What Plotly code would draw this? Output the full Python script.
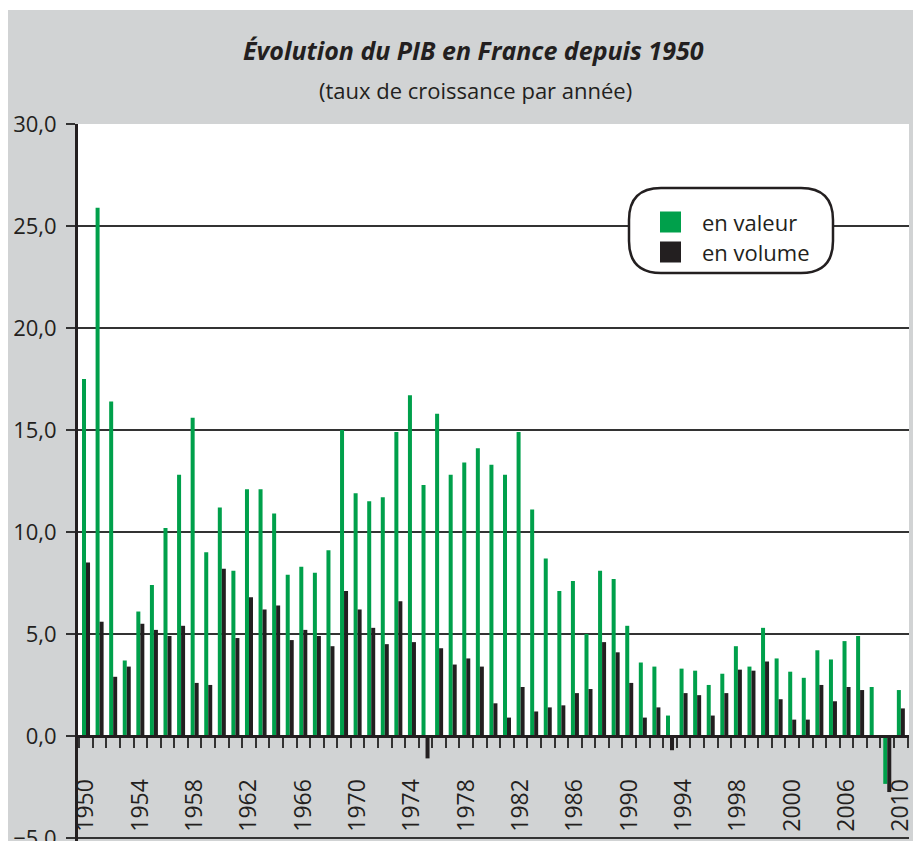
import plotly.graph_objects as go

years = list(range(1950, 2011))
valeur = [17.5, 25.9, 16.4, 3.7, 6.1, 7.4, 10.2, 12.8, 15.6, 9.0,
          11.2, 8.1, 12.1, 12.1, 10.9, 7.9, 8.3, 8.0, 9.1, 15.0,
          11.9, 11.5, 11.7, 14.9, 16.7, 12.3, 15.8, 12.8, 13.4, 14.1,
          13.3, 12.8, 14.9, 11.1, 8.7, 7.1, 7.6, 5.0, 8.1, 7.7,
          5.4, 3.6, 3.4, 1.0, 3.3, 3.2, 2.5, 3.05, 4.4, 3.4,
          5.3, 3.8, 3.15, 2.85, 4.2, 3.75, 4.65, 4.9, 2.4, -2.35, 2.25]
volume = [8.5, 5.6, 2.9, 3.4, 5.5, 5.2, 4.9, 5.4, 2.6, 2.5,
          8.2, 4.8, 6.8, 6.2, 6.4, 4.7, 5.2, 4.9, 4.4, 7.1,
          6.2, 5.3, 4.5, 6.6, 4.6, -1.1, 4.3, 3.5, 3.8, 3.4,
          1.6, 0.9, 2.4, 1.2, 1.4, 1.5, 2.1, 2.3, 4.6, 4.1,
          2.6, 0.9, 1.4, -0.7, 2.1, 2.0, 1.0, 2.1, 3.25, 3.2,
          3.65, 1.8, 0.8, 0.8, 2.5, 1.7, 2.4, 2.25, -0.1, -2.75, 1.35]
tick_positions = [1950, 1954, 1958, 1962, 1966, 1970, 1974, 1978, 1982,
                  1986, 1990, 1994, 1998, 2002, 2006, 2010]
tick_labels = ["1950", "1954", "1958", "1962", "1966", "1970", "1974", "1978",
               "1982", "1986", "1990", "1994", "1998", "2000", "2006", "2010"]
series_names = ["en valeur", "en volume"]
series_colors = ["#00a04b", "#231f20"]

TITLE = "Évolution du PIB en France depuis 1950"
SUBTITLE = "(taux de croissance par année)"

W, H = 913, 841
L, R, T, B = 78, 4, 124, 0
PW, PH = W - L - R, H - T - B
Y_MIN, Y_MAX = -5.15, 30
FONT = "Open Sans"
TXT = "#231f20"


def px(x):
    return (x - L) / PW


def py(y):
    return (H - B - y) / PH


fig = go.Figure()
for name, vals, col in zip(series_names, [valeur, volume], series_colors):
    fig.add_trace(go.Bar(x=years, y=vals, name=name, marker_color=col,
                         marker_line_width=0, showlegend=False))

shapes = [
    dict(type="rect", xref="paper", yref="paper", x0=px(8), x1=px(913),
         y0=py(841), y1=py(10), fillcolor="#d1d3d4", line_width=0, layer="below"),
    dict(type="rect", xref="paper", yref="y", x0=0, x1=1, y0=0, y1=30,
         fillcolor="white", line_width=0, layer="below"),
]

x0, x1, y0, y1, r = 629, 833, 188, 273, 32
pts = [
    ("M", [(x0 + r, y0)]), ("L", [(x1 - r, y0)]), ("Q", [(x1, y0), (x1, y0 + r)]),
    ("L", [(x1, y1 - r)]), ("Q", [(x1, y1), (x1 - r, y1)]), ("L", [(x0 + r, y1)]),
    ("Q", [(x0, y1), (x0, y1 - r)]), ("L", [(x0, y0 + r)]), ("Q", [(x0, y0), (x0 + r, y0)]),
]
path = ""
for cmd, ps in pts:
    path += cmd + " " + " ".join(f"{px(a):.5f},{py(b):.5f}" for a, b in ps) + " "
path += "Z"
shapes.append(dict(type="path", xref="paper", yref="paper", path=path,
                   fillcolor="white", line=dict(color=TXT, width=2.5), layer="above"))

annotations = [
    dict(text=f"<b><i>{TITLE}</i></b>", x=px(473), y=py(50), xref="paper", yref="paper",
         showarrow=False, xanchor="center", yanchor="middle",
         font=dict(family=FONT, size=25, color=TXT)),
    dict(text=SUBTITLE, x=px(475), y=py(90), xref="paper", yref="paper",
         showarrow=False, xanchor="center", yanchor="middle",
         font=dict(family=FONT, size=22, color=TXT)),
]
for i, (name, col) in enumerate(zip(series_names, series_colors)):
    cy = 222 + 30 * i
    shapes.append(dict(type="rect", xref="paper", yref="paper",
                       x0=px(660), x1=px(681), y0=py(cy - 10.5), y1=py(cy + 10.5),
                       fillcolor=col, line_width=0, layer="above"))
    annotations.append(dict(text=name, x=px(700), y=py(cy), xref="paper", yref="paper",
                            showarrow=False, xanchor="left", yanchor="middle",
                            font=dict(family=FONT, size=22, color=TXT)))

fig.update_layout(
    width=W, height=H,
    margin=dict(l=L, r=R, t=T, b=B, pad=0, autoexpand=False),
    paper_bgcolor="white", plot_bgcolor="rgba(0,0,0,0)",
    barmode="group", bargap=0.41, bargroupgap=0,
    separators=", ",
    font=dict(family=FONT, color=TXT),
    shapes=shapes, annotations=annotations,
    xaxis=dict(
        range=[1949.41, 2010.6], anchor="free", position=-Y_MIN / (Y_MAX - Y_MIN),
        automargin=False,
        tickmode="array", tickvals=tick_positions, ticktext=tick_labels,
        tickangle=-90, tickfont=dict(family=FONT, size=23, color=TXT),
        ticks="outside", ticklen=10, tickcolor="rgba(0,0,0,0)",
        ticklabelstandoff=22, ticklabeloverflow="allow",
        showgrid=False, zeroline=False,
        showline=True, linecolor=TXT, linewidth=3,
        minor=dict(ticks="outside", ticklen=10, tickcolor="#333333", tickwidth=1.5,
                   tickmode="linear", tick0=1949.5, dtick=1, showgrid=False),
    ),
    yaxis=dict(
        range=[Y_MIN, Y_MAX], tick0=0, dtick=5, tickformat=".1f",
        automargin=False,
        tickfont=dict(family=FONT, size=22, color=TXT),
        ticks="outside", ticklen=9, tickcolor="#333333", tickwidth=1.5,
        ticklabelstandoff=5, ticklabeloverflow="allow",
        showgrid=True, gridcolor="#333333", gridwidth=1.5,
        zeroline=False, showline=True, linecolor=TXT, linewidth=3,
    ),
)

fig.write_html(
    "out.html",
    config={"displayModeBar": False},
    post_script="document.body.style.margin='0';document.body.style.overflow='hidden';",
)
